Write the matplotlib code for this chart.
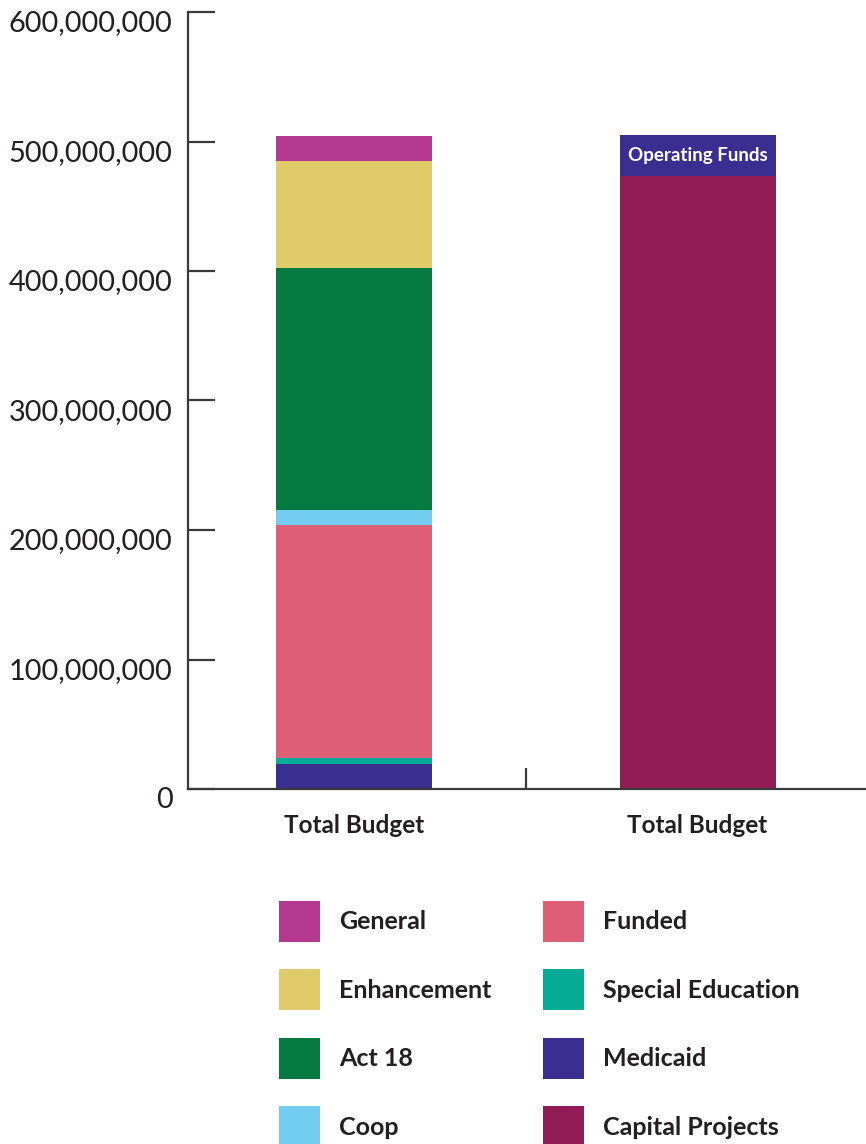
import matplotlib
matplotlib.use('Agg')
import matplotlib.pyplot as plt
import matplotlib.transforms as mtransforms
from matplotlib.patches import Patch

# values in dollars
categories = ['Total Budget', 'Total Budget']
left_names = ['Medicaid', 'Special Education', 'Funded', 'Coop', 'Act 18', 'Enhancement', 'General']
left_values = [19.4e6, 4.6e6, 180.1e6, 11.6e6, 186.7e6, 82.3e6, 19.8e6]
right_names = ['Capital Projects', 'Operating Funds']
right_values = [473.7e6, 31.6e6]
y_ticks = [0, 100e6, 200e6, 300e6, 400e6, 500e6, 600e6]
y_tick_labels = ['0', '100,000,000', '200,000,000', '300,000,000',
                 '400,000,000', '500,000,000', '600,000,000']
legend_order = ['General', 'Enhancement', 'Act 18', 'Coop',
                'Funded', 'Special Education', 'Medicaid', 'Capital Projects']

colors = {
    'General': '#B5388F',
    'Enhancement': '#E0CB6A',
    'Act 18': '#057A40',
    'Coop': '#72CDF1',
    'Funded': '#DD5E76',
    'Special Education': '#07AC97',
    'Medicaid': '#3B2E91',
    'Capital Projects': '#931C56',
    'Operating Funds': '#3B2E91',
}

plt.rcParams['font.family'] = ['Lato', 'DejaVu Sans']
axis_col = '#3a3a3a'
text_col = '#231f20'

fig = plt.figure(figsize=(8.66, 11.44), dpi=100)
ax = fig.add_axes([188 / 866, 355 / 1144, 678 / 866, 777 / 1144])

bar_w = 0.454
bottom = 0
for name, val in zip(left_names, left_values):
    ax.bar(0, val, bar_w, bottom=bottom, color=colors[name], linewidth=0)
    bottom += val

bottom = 0
for name, val in zip(right_names, right_values):
    ax.bar(1, val, bar_w, bottom=bottom, color=colors[name], linewidth=0)
    if name == 'Operating Funds':
        ax.text(1, bottom + val / 2, name, ha='center', va='center',
                color='white', fontsize=13.5, fontweight='bold')
    bottom += val

ax.set_xlim(-0.483, 1.49)
ax.set_ylim(0, 600e6)
ax.set_yticks(y_ticks)
ax.set_yticklabels(y_tick_labels)
ax.set_xticks([0, 1])
ax.set_xticklabels(categories, fontsize=17.5, fontweight='bold', color=text_col)
ax.set_xticks([0.5], minor=True)

for side in ['top', 'right']:
    ax.spines[side].set_visible(False)
for side in ['left', 'bottom']:
    ax.spines[side].set_color(axis_col)
    ax.spines[side].set_linewidth(1.6)

ax.tick_params(axis='y', direction='in', length=19.5, width=1.6, color=axis_col,
               labelsize=20.8, labelcolor=text_col, pad=11)
ax.tick_params(axis='x', which='major', length=0, pad=18)
ax.tick_params(axis='x', which='minor', direction='in', length=15, width=1.6,
               color=axis_col)

shift = mtransforms.ScaledTranslation(0, -9 / 100, fig.dpi_scale_trans)
for lab in ax.get_yticklabels():
    lab.set_transform(lab.get_transform() + shift)

handles = [Patch(facecolor=colors[n], edgecolor='none', label=n) for n in legend_order]
leg = fig.legend(handles=handles, ncol=2, loc='upper left',
                 bbox_to_anchor=(279 / 866, 1 - 901 / 1144), frameon=False,
                 fontsize=18, handlelength=1.64, handleheight=2.146,
                 labelspacing=1.1, handletextpad=0.76, columnspacing=2.08,
                 borderpad=0, borderaxespad=0)
for t in leg.get_texts():
    t.set_fontweight('bold')
    t.set_color(text_col)

fig.savefig('out.png', dpi=100)
